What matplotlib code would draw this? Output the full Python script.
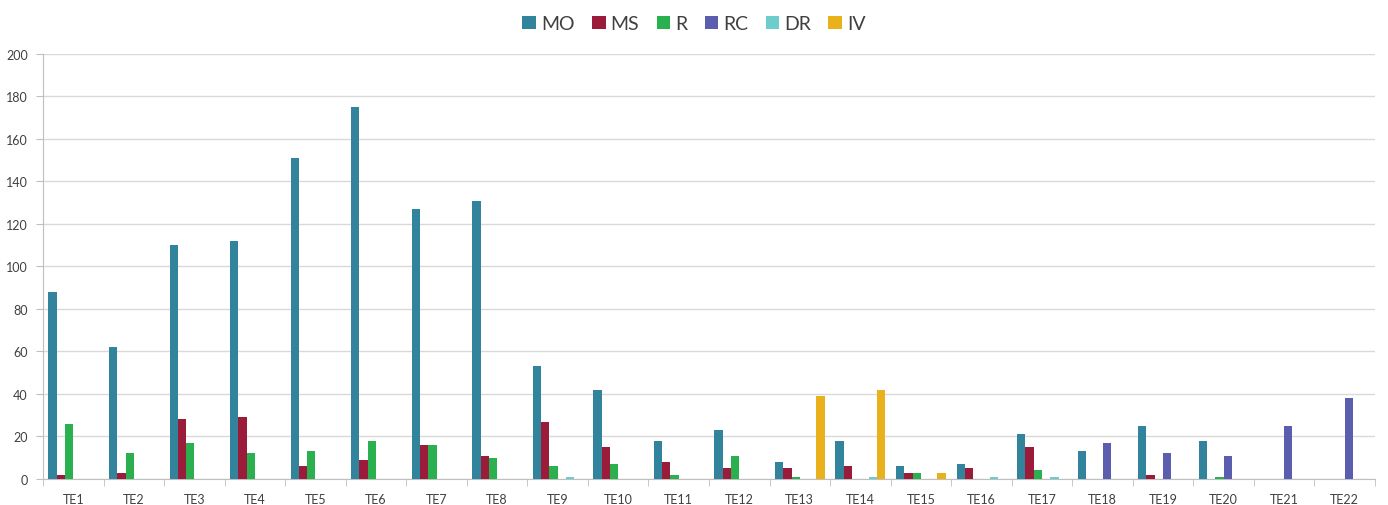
import matplotlib
matplotlib.use("Agg")
import matplotlib.pyplot as plt
import numpy as np

plt.rcParams['font.family'] = ['Lato', 'DejaVu Sans']

categories = [f"TE{i}" for i in range(1, 23)]
series_names = ["MO", "MS", "R", "RC", "DR", "IV"]
MO = [88, 62, 110, 112, 151, 175, 127, 131, 53, 42, 18, 23, 8, 18, 6, 7, 21, 13, 25, 18, 0, 0]
MS = [2, 3, 28, 29, 6, 9, 16, 11, 27, 15, 8, 5, 5, 6, 3, 5, 15, 0, 2, 0, 0, 0]
R = [26, 12, 17, 12, 13, 18, 16, 10, 6, 7, 2, 11, 1, 0, 3, 0, 4, 0, 0, 1, 0, 0]
RC = [0, 0, 0, 0, 0, 0, 0, 0, 0, 0, 0, 0, 0, 0, 0, 0, 0, 17, 12, 11, 25, 38]
DR = [0, 0, 0, 0, 0, 0, 0, 0, 1, 0, 0, 0, 0, 1, 0, 1, 1, 0, 0, 0, 0, 0]
IV = [0, 0, 0, 0, 0, 0, 0, 0, 0, 0, 0, 0, 39, 42, 3, 0, 0, 0, 0, 0, 0, 0]
yticks = list(range(0, 201, 20))

colors = ["#31849B", "#9B1B3A", "#2BB04F", "#5B5EAE", "#6DCDCD", "#E9B21D"]
data = [MO, MS, R, RC, DR, IV]

fig = plt.figure(figsize=(13.88, 5.06), dpi=100)
ax = fig.add_axes([0.031, 0.0514, 0.9596, 0.8400])

x = np.arange(len(categories))
w = 0.137
for i, (name, vals, c) in enumerate(zip(series_names, data, colors)):
    ax.bar(x + (i - 2.5) * w, vals, width=w, color=c, label=name, zorder=3)

ax.set_xlim(-0.5, len(categories) - 0.5)
ax.set_ylim(0, 200)
ax.set_yticks(yticks)
ax.set_yticklabels([str(v) for v in yticks], fontsize=9, color="#404040")
ax.set_xticks(x)
ax.set_xticklabels(categories, fontsize=9, color="#404040")
ax.set_xticks(np.arange(-0.5, len(categories)), minor=True)
ax.tick_params(axis='x', which='major', length=0, pad=10)
ax.tick_params(axis='x', which='minor', length=5, color="#BFBFBF")
ax.tick_params(axis='y', length=5, color="#BFBFBF", pad=6)
ax.grid(axis='y', color="#D9D9D9", linewidth=1, zorder=0)
for s in ["top", "right"]:
    ax.spines[s].set_visible(False)
ax.spines["left"].set_color("#BFBFBF")
ax.spines["bottom"].set_color("#BFBFBF")

leg = fig.legend(loc="upper center", bbox_to_anchor=(0.5, 1.002), ncol=6, frameon=False,
                 fontsize=14, handlelength=0.7, handleheight=0.7, handletextpad=0.25,
                 columnspacing=0.9)
for t in leg.get_texts():
    t.set_color("#404040")

fig.savefig("out.png", dpi=100)
